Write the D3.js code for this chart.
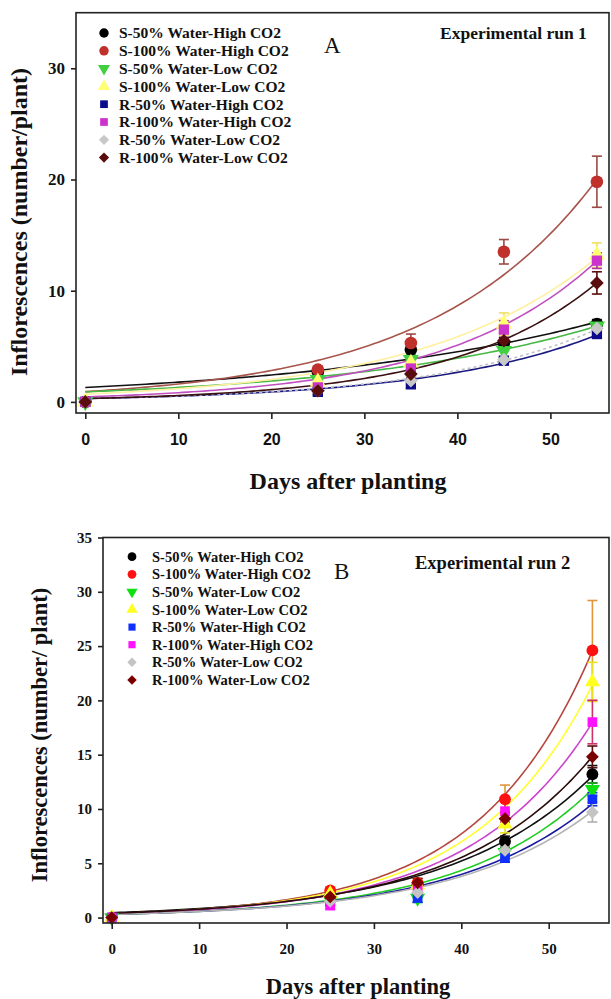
<!DOCTYPE html>
<html><head><meta charset="utf-8">
<script src="https://cdn.jsdelivr.net/npm/d3@7"></script>
<style>body{margin:0;background:#fff} svg{display:block}</style>
</head><body><svg id="c" width="611" height="999"></svg>
<script>
// ---------------- DATA ----------------
const days = [0, 25, 35, 45, 55];
const seriesNames = ["S-50% Water-High CO2","S-100% Water-High CO2","S-50% Water-Low CO2","S-100% Water-Low CO2",
  "R-50% Water-High CO2","R-100% Water-High CO2","R-50% Water-Low CO2","R-100% Water-Low CO2"];
const xTicks = [0, 10, 20, 30, 40, 50];
const yTicksRun1 = [0, 10, 20, 30];
const yTicksRun2 = [0, 5, 10, 15, 20, 25, 30, 35];

// Experimental run 1 (means and SE)
const run1_S50High  = [0, 2.7, 4.7, 5.3, 7.0];
const run1_S100High = [0, 2.9, 5.3, 13.5, 19.8];
const run1_S50Low   = [0, 2.0, 3.8, 4.6, 6.8];
const run1_S100Low  = [0, 1.8, 3.5, 7.0, 13.2];
const run1_R50High  = [0, 0.9, 1.6, 3.7, 6.1];
const run1_R100High = [0, 1.3, 3.0, 6.5, 12.7];
const run1_R50Low   = [0, 1.0, 1.9, 3.8, 6.6];
const run1_R100Low  = [0, 1.0, 2.5, 5.5, 10.7];
const run1Err_S50High  = [0, 0.3, 0.6, 0.5, 0.4];
const run1Err_S100High = [0, 0.3, 0.8, 1.1, 2.3];
const run1Err_S50Low   = [0, 0.3, 0.5, 0.6, 0.4];
const run1Err_S100Low  = [0, 0.3, 0.4, 1.0, 1.1];
const run1Err_R50High  = [0, 0.3, 0.4, 0.3, 0.3];
const run1Err_R100High = [0, 0.3, 0.5, 0.8, 0.7];
const run1Err_R50Low   = [0, 0.3, 0.3, 0.3, 0.5];
const run1Err_R100Low  = [0, 0.3, 0.4, 0.7, 1.0];
// exponential fit y = a*exp(b*day)
const run1FitA = [1.3, 0.92, 0.9, 0.7, 0.3, 0.45, 0.3, 0.3];
const run1FitB = [0.0311, 0.056, 0.0368, 0.0531, 0.0545, 0.0607, 0.056, 0.065];

// Experimental run 2
const run2_S50High  = [0, 2.0, 3.0, 7.0, 13.2];
const run2_S100High = [0, 2.5, 3.2, 10.9, 24.6];
const run2_S50Low   = [0, 1.6, 1.8, 6.0, 11.8];
const run2_S100Low  = [0, 2.2, 3.0, 8.6, 21.7];
const run2_R50High  = [0, 1.4, 1.8, 5.5, 10.9];
const run2_R100High = [0, 1.1, 2.6, 9.8, 18.0];
const run2_R50Low   = [0, 1.5, 2.3, 6.2, 9.7];
const run2_R100Low  = [0, 1.9, 3.2, 9.1, 14.8];
const run2Err_S50High  = [0, 0.3, 0.3, 0.5, 0.8];
const run2Err_S100High = [0, 0.3, 0.4, 1.3, 4.6];
const run2Err_S50Low   = [0, 0.3, 0.4, 0.5, 0.6];
const run2Err_S100Low  = [0, 0.3, 0.4, 0.8, 1.8];
const run2Err_R50High  = [0, 0.3, 0.4, 0.4, 0.6];
const run2Err_R100High = [0, 0.3, 0.4, 1.0, 2.0];
const run2Err_R50Low   = [0, 0.3, 0.3, 0.4, 0.9];
const run2Err_R100Low  = [0, 0.3, 0.4, 0.6, 1.0];
const run2FitA = [0.45, 0.35, 0.3, 0.35, 0.3, 0.35, 0.3, 0.4];
const run2FitB = [0.0612, 0.0773, 0.0668, 0.0748, 0.0646, 0.0716, 0.0634, 0.0657];

// ---------------- STYLE ----------------
const shapes = ["circle","circle","tdown","tup","square","square","diamond","diamond"];
const run1Colors = ["#000000","#c0312b","#3fcf3f","#ffff70","#0a0a8a","#cc33cc","#c8c8c8","#5a0d0d"];
const run1FitColors = ["#111111","#a8554c","#46b846","#fff0a0","#1a1a80","#c050c0","#c0c0c8","#3a1010"];
const run1ErrColors = ["#111111","#9a4a44","#3a9a3a","#f0e060","#0a0a8a","#b030b0","#a0a0a0","#5a0d0d"];
const run2Colors = ["#000000","#ff1010","#10e010","#ffff20","#1030ff","#ff10ff","#c4c4c4","#7a0000"];
const run2FitColors = ["#111111","#b5463e","#22cc22","#ffff30","#1a1aa0","#cc44cc","#b4b4b4","#2a0a0a"];
const run2ErrColors = ["#111111","#e0953a","#18b018","#e8e020","#1030d0","#d0306a","#b0b0b0","#5a0d0d"];

const svg = d3.select("#c");
const serif = "'Liberation Serif','Times New Roman',serif";
const sans = "'Liberation Sans',Arial,sans-serif";

function symbolPath(shape, size) {
  if (shape === "circle") return d3.symbol(d3.symbolCircle, size)();
  if (shape === "square") return d3.symbol(d3.symbolSquare, size * 0.85)();
  if (shape === "tup" || shape === "tdown") return d3.symbol(d3.symbolTriangle, size * 0.9)();
  if (shape === "diamond") return d3.symbol(d3.symbolSquare, size * 0.75)();
  return d3.symbol(d3.symbolCircle, size)();
}
function symbolRot(shape) {
  if (shape === "tdown") return 180;
  if (shape === "diamond") return 45;
  return 0;
}

function drawPanel(cfg) {
  const g = svg.append("g");
  const x = d3.scaleLinear().domain(cfg.xDomain).range(cfg.xRange);
  const y = d3.scaleLinear().domain(cfg.yDomain).range(cfg.yRange);
  const [x0, x1] = cfg.xRange, [yb, yt] = cfg.yRange;

  // fit curves
  const fine = d3.range(0, 55.01, 0.5);
  cfg.fitA.forEach((a, i) => {
    const b = cfg.fitB[i];
    const line = d3.line().x(d => x(d)).y(d => y(a * Math.exp(b * d)));
    g.append("path").datum(fine).attr("d", line).attr("fill", "none")
      .attr("stroke", cfg.fitColors[i]).attr("stroke-width", cfg.fitWidth)
      .attr("stroke-dasharray", cfg.dash[i] || null);
  });

  // error bars
  cfg.values.forEach((vals, i) => {
    const errs = cfg.errors[i];
    vals.forEach((v, j) => {
      const e = errs[j];
      if (!e) return;
      const cx = x(days[j]);
      const eg = g.append("g").attr("stroke", cfg.errColors[i]).attr("stroke-width", 1.6);
      eg.append("line").attr("x1", cx).attr("x2", cx).attr("y1", y(v - e)).attr("y2", y(v + e));
      eg.append("line").attr("x1", cx - 5).attr("x2", cx + 5).attr("y1", y(v + e)).attr("y2", y(v + e));
      eg.append("line").attr("x1", cx - 5).attr("x2", cx + 5).attr("y1", y(v - e)).attr("y2", y(v - e));
    });
  });

  // markers
  cfg.values.forEach((vals, i) => {
    g.selectAll(null).data(vals).enter().append("path")
      .attr("d", symbolPath(shapes[i], cfg.markerSize))
      .attr("transform", (d, j) => `translate(${x(days[j])},${y(d)}) rotate(${symbolRot(shapes[i])})`)
      .attr("fill", cfg.colors[i]);
  });

  // frame
  g.append("rect").attr("x", x0).attr("y", yt).attr("width", x1 - x0).attr("height", yb - yt)
    .attr("fill", "none").attr("stroke", "#222").attr("stroke-width", 1.6);

  // axes
  const xa = g.append("g").attr("transform", `translate(0,${yb})`)
    .call(d3.axisBottom(x).tickValues(xTicks).tickSize(6).tickPadding(cfg.xTickPad).tickFormat(d3.format("d")));
  xa.select(".domain").remove();
  xa.selectAll("line").attr("stroke", "#222").attr("stroke-width", 1.6);
  xa.selectAll("text").attr("font-family", cfg.xTickFont).attr("font-weight", "bold")
    .attr("font-size", cfg.xTickSize).attr("fill", "#111");

  const ya = g.append("g").attr("transform", `translate(${x0},0)`)
    .call(d3.axisLeft(y).tickValues(cfg.yTicks).tickSize(5).tickPadding(6).tickFormat(d3.format("d")));
  ya.select(".domain").remove();
  ya.selectAll("line").attr("stroke", "#222").attr("stroke-width", 1.6);
  ya.selectAll("text").attr("font-family", serif).attr("font-weight", "bold")
    .attr("font-size", cfg.yTickSize).attr("fill", "#111");

  // axis titles
  g.append("text").attr("x", cfg.xTitlePos[0]).attr("y", cfg.xTitlePos[1])
    .attr("text-anchor", "middle").attr("font-family", serif).attr("font-weight", "bold")
    .attr("font-size", cfg.titleSize).attr("fill", "#111").text("Days after planting");
  g.append("text").attr("transform", `translate(${cfg.yTitlePos[0]},${cfg.yTitlePos[1]}) rotate(-90)`)
    .attr("text-anchor", "middle").attr("font-family", serif).attr("font-weight", "bold")
    .attr("font-size", cfg.titleSize).attr("fill", "#111").text(cfg.yTitle);

  // panel letter & run title
  g.append("text").attr("x", cfg.letterPos[0]).attr("y", cfg.letterPos[1])
    .attr("font-family", serif).attr("font-size", 23).attr("fill", "#111").text(cfg.letter);
  g.append("text").attr("x", cfg.runPos[0]).attr("y", cfg.runPos[1])
    .attr("font-family", serif).attr("font-weight", "bold").attr("font-size", cfg.runSize)
    .attr("fill", "#111").text(cfg.runTitle);

  // legend
  const lg = g.append("g");
  seriesNames.forEach((name, i) => {
    const ly = cfg.legendY0 + i * cfg.legendStep;
    lg.append("path").attr("d", symbolPath(shapes[i], cfg.legendMarker))
      .attr("transform", `translate(${cfg.legendMX},${ly}) rotate(${symbolRot(shapes[i])})`)
      .attr("fill", cfg.colors[i]);
    lg.append("text").attr("x", cfg.legendTX).attr("y", ly).attr("dy", "0.35em")
      .attr("font-family", serif).attr("font-weight", "bold").attr("font-size", cfg.legendSize)
      .attr("fill", "#111").text(name);
  });
}

drawPanel({
  values: [run1_S50High, run1_S100High, run1_S50Low, run1_S100Low, run1_R50High, run1_R100High, run1_R50Low, run1_R100Low],
  errors: [run1Err_S50High, run1Err_S100High, run1Err_S50Low, run1Err_S100Low, run1Err_R50High, run1Err_R100High, run1Err_R50Low, run1Err_R100Low],
  fitA: run1FitA, fitB: run1FitB,
  colors: run1Colors, fitColors: run1FitColors, errColors: run1ErrColors,
  dash: [null, null, null, null, null, null, "3,3", null],
  xDomain: [-1, 56.3], xRange: [76, 609],
  yDomain: [-1, 35], yRange: [413, 12.7],
  yTicks: yTicksRun1, xTickFont: sans, xTickSize: 16, xTickPad: 15, yTickSize: 17,
  fitWidth: 1.6, markerSize: 125, legendMarker: 70,
  xTitlePos: [348, 489], yTitlePos: [27, 222], titleSize: 24,
  yTitle: "Inflorescences (number/plant)",
  letter: "A", letterPos: [324, 53], runTitle: "Experimental run 1", runPos: [440, 39], runSize: 17.5,
  legendY0: 33, legendStep: 17.8, legendMX: 104, legendTX: 119, legendSize: 15.5
});

drawPanel({
  values: [run2_S50High, run2_S100High, run2_S50Low, run2_S100Low, run2_R50High, run2_R100High, run2_R50Low, run2_R100Low],
  errors: [run2Err_S50High, run2Err_S100High, run2Err_S50Low, run2Err_S100Low, run2Err_R50High, run2Err_R100High, run2Err_R50Low, run2Err_R100Low],
  fitA: run2FitA, fitB: run2FitB,
  colors: run2Colors, fitColors: run2FitColors, errColors: run2ErrColors,
  dash: [],
  xDomain: [-1, 56.9], xRange: [103, 609],
  yDomain: [-0.5, 35], yRange: [923, 537.5],
  yTicks: yTicksRun2, xTickFont: serif, xTickSize: 15, xTickPad: 14, yTickSize: 15,
  fitWidth: 1.6, markerSize: 110, legendMarker: 60,
  xTitlePos: [358, 994], yTitlePos: [47, 735], titleSize: 22.5,
  yTitle: "Inflorescences (number/ plant)",
  letter: "B", letterPos: [334, 579], runTitle: "Experimental run 2", runPos: [415, 569], runSize: 18.5,
  legendY0: 556.7, legendStep: 17.6, legendMX: 132, legendTX: 152, legendSize: 14.5
});
</script></body></html>
